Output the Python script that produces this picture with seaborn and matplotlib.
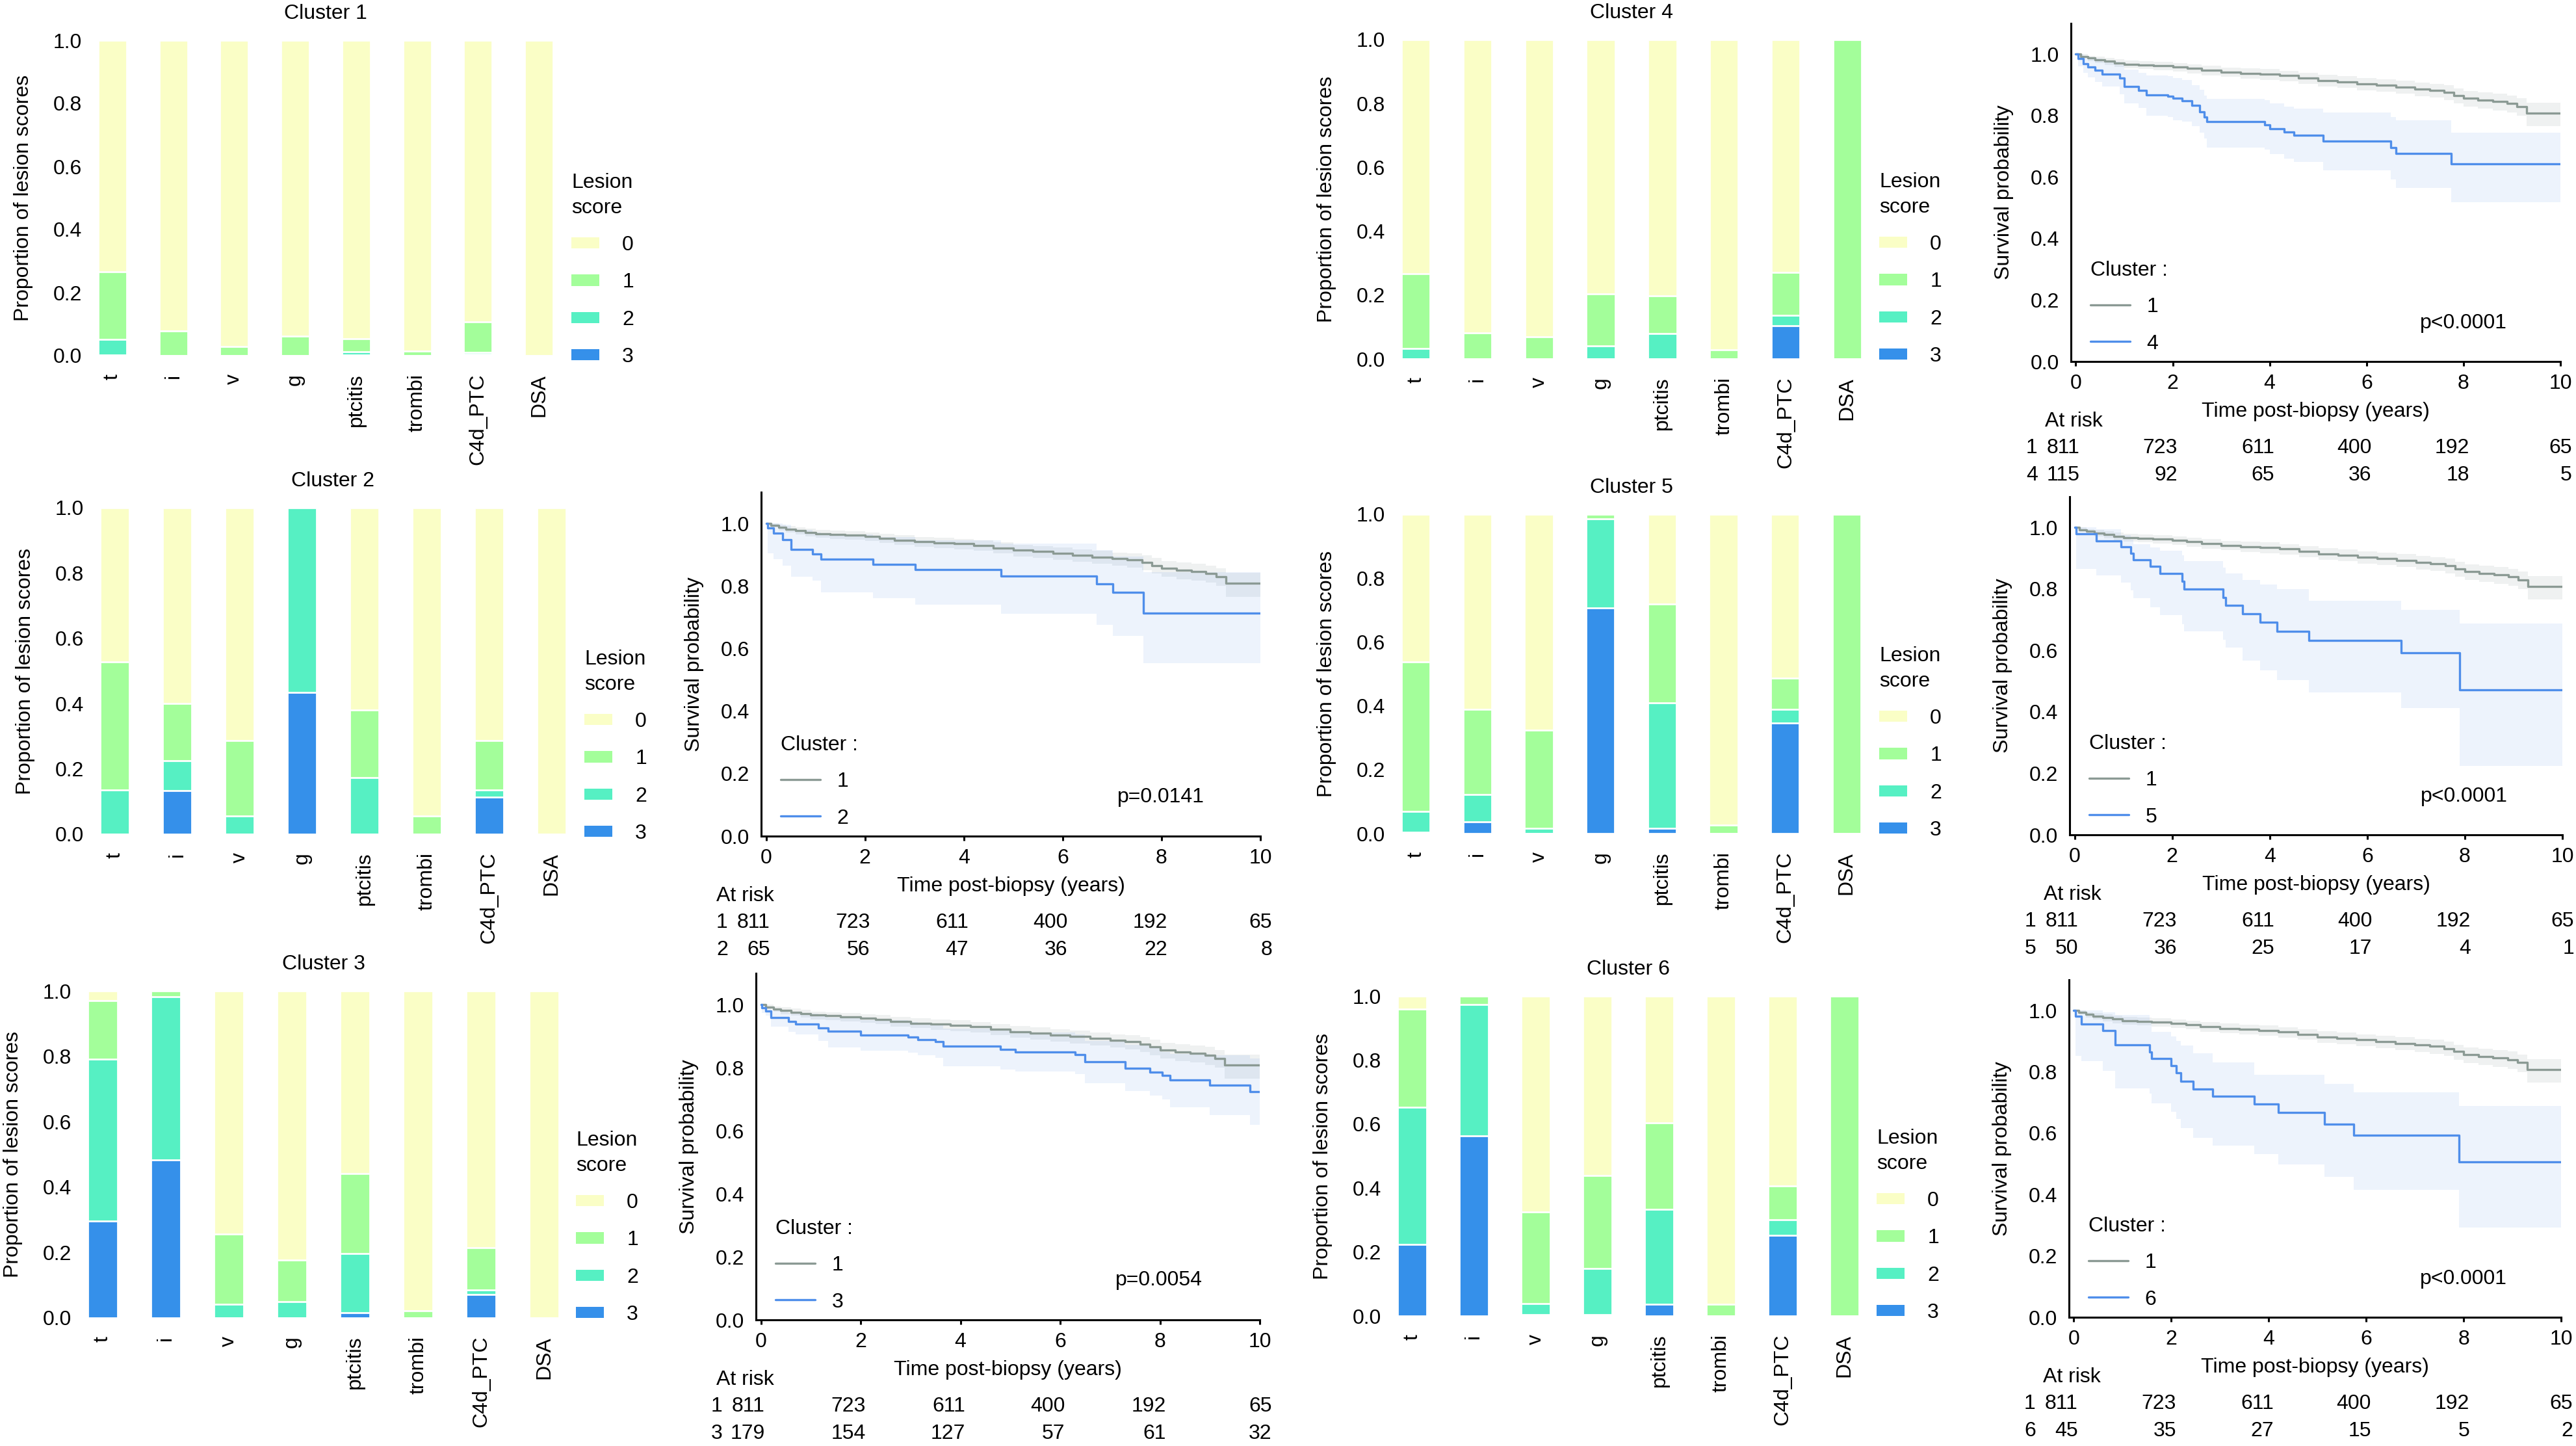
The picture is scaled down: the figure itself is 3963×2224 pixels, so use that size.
import numpy as np
import pandas as pd
import matplotlib
matplotlib.use("Agg")
import matplotlib.pyplot as plt
import seaborn as sns
from matplotlib.patches import Patch
from matplotlib.lines import Line2D
from matplotlib.transforms import blended_transform_factory

# ---- lesion score proportions (score 0 = remainder) ----
lesions = ["t", "i", "v", "g", "ptcitis", "trombi", "C4d_PTC", "DSA"]
score_levels = ["0", "1", "2", "3"]
score_colors = ["#FAFEC6", "#A3FE9A", "#56F0C3", "#3590EA"]

c1_s1 = [0.215, 0.078, 0.028, 0.061, 0.042, 0.014, 0.097, 0.0]
c1_s2 = [0.049, 0.0, 0.0, 0.0, 0.009, 0.0, 0.006, 0.0]
c1_s3 = [0.003, 0.0, 0.0, 0.0, 0.003, 0.0, 0.004, 0.0]

c2_s1 = [0.392, 0.175, 0.231, 0.0, 0.208, 0.056, 0.152, 0.0]
c2_s2 = [0.135, 0.092, 0.056, 0.566, 0.173, 0.0, 0.022, 0.0]
c2_s3 = [0.0, 0.133, 0.0, 0.434, 0.0, 0.0, 0.113, 0.0]

c3_s1 = [0.179, 0.017, 0.215, 0.127, 0.245, 0.022, 0.129, 0.0]
c3_s2 = [0.495, 0.500, 0.042, 0.049, 0.181, 0.0, 0.014, 0.0]
c3_s3 = [0.297, 0.483, 0.0, 0.0, 0.015, 0.0, 0.071, 0.0]

c4_s1 = [0.234, 0.082, 0.069, 0.163, 0.118, 0.029, 0.134, 1.0]
c4_s2 = [0.032, 0.0, 0.0, 0.041, 0.079, 0.0, 0.034, 0.0]
c4_s3 = [0.0, 0.0, 0.0, 0.0, 0.0, 0.0, 0.103, 0.0]

c5_s1 = [0.469, 0.265, 0.308, 0.014, 0.310, 0.027, 0.098, 1.0]
c5_s2 = [0.064, 0.087, 0.016, 0.279, 0.393, 0.0, 0.042, 0.0]
c5_s3 = [0.005, 0.036, 0.0, 0.707, 0.016, 0.0, 0.346, 0.0]

c6_s1 = [0.307, 0.026, 0.287, 0.291, 0.269, 0.037, 0.106, 1.0]
c6_s2 = [0.429, 0.412, 0.034, 0.143, 0.297, 0.0, 0.048, 0.0]
c6_s3 = [0.223, 0.562, 0.005, 0.005, 0.037, 0.0, 0.253, 0.0]

# ---- Kaplan-Meier curves ----
ref_t = [0, 0.1, 0.25, 0.4, 0.6, 0.8, 1.0, 1.3, 1.6, 2.0, 2.3, 2.6, 3.0, 3.4, 3.8, 4.2, 4.6,
         5.0, 5.4, 5.8, 6.2, 6.6, 7.0, 7.3, 7.6, 7.8, 8.0, 8.3, 8.6, 8.9, 9.1, 9.3, 10]
ref_s = [1.0, 0.993, 0.987, 0.982, 0.977, 0.972, 0.967, 0.965, 0.962, 0.958, 0.953, 0.947, 0.942,
         0.938, 0.935, 0.93, 0.922, 0.914, 0.91, 0.904, 0.899, 0.893, 0.887, 0.883, 0.876, 0.866,
         0.856, 0.85, 0.846, 0.84, 0.83, 0.808, 0.808]
ref_hi = [1.0, 1.0, 0.995, 0.992, 0.988, 0.984, 0.979, 0.977, 0.975, 0.971, 0.967, 0.962, 0.957,
          0.954, 0.951, 0.946, 0.939, 0.932, 0.928, 0.923, 0.918, 0.913, 0.907, 0.904, 0.898, 0.889,
          0.88, 0.875, 0.871, 0.866, 0.857, 0.842, 0.842]
ref_lo = [1.0, 0.987, 0.978, 0.971, 0.965, 0.959, 0.954, 0.951, 0.948, 0.944, 0.938, 0.931, 0.926,
          0.921, 0.917, 0.912, 0.904, 0.895, 0.89, 0.883, 0.877, 0.871, 0.864, 0.859, 0.851, 0.84,
          0.829, 0.822, 0.817, 0.81, 0.8, 0.765, 0.765]

km2_t = [0, 0.03, 0.15, 0.34, 0.5, 0.94, 1.11, 2.16, 3.02, 4.75, 6.69, 7.02, 7.63, 10]
km2_s = [1.0, 0.985, 0.969, 0.948, 0.917, 0.902, 0.886, 0.869, 0.852, 0.832, 0.807, 0.779, 0.714, 0.714]
km2_lo = [1.0, 0.905, 0.885, 0.864, 0.83, 0.817, 0.779, 0.761, 0.74, 0.711, 0.676, 0.64, 0.554, 0.554]
km2_hi = [1.0, 1.0, 1.0, 0.995, 0.98, 0.972, 0.965, 0.957, 0.947, 0.935, 0.915, 0.895, 0.845, 0.845]

km3_t = [0, 0.02, 0.1, 0.2, 0.55, 0.7, 1.15, 1.35, 2.0, 2.95, 3.15, 3.5, 3.65, 4.8, 5.1, 6.3, 6.5,
         7.3, 7.8, 8.05, 8.2, 9.0, 9.8, 10]
km3_s = [1.0, 0.99, 0.98, 0.96, 0.947, 0.94, 0.927, 0.917, 0.904, 0.898, 0.89, 0.883, 0.868, 0.858,
         0.851, 0.843, 0.82, 0.799, 0.787, 0.775, 0.761, 0.746, 0.724, 0.724]
km3_lo = [1.0, 0.975, 0.965, 0.93, 0.915, 0.905, 0.885, 0.865, 0.855, 0.848, 0.84, 0.832, 0.805,
          0.795, 0.789, 0.78, 0.752, 0.726, 0.712, 0.7, 0.675, 0.65, 0.619, 0.619]
km3_hi = [1.0, 1.0, 0.995, 0.985, 0.975, 0.972, 0.965, 0.96, 0.952, 0.946, 0.94, 0.934, 0.925,
          0.918, 0.912, 0.905, 0.885, 0.872, 0.862, 0.85, 0.845, 0.84, 0.83, 0.83]

km4_t = [0, 0.05, 0.15, 0.25, 0.4, 0.55, 0.9, 1.0, 1.3, 1.45, 1.9, 2.0, 2.2, 2.4, 2.55, 2.65, 2.7,
         3.9, 4.0, 4.3, 4.5, 5.1, 6.5, 6.6, 7.75, 10]
km4_s = [1.0, 0.985, 0.969, 0.958, 0.948, 0.935, 0.922, 0.894, 0.883, 0.867, 0.864, 0.856, 0.849,
         0.833, 0.812, 0.796, 0.781, 0.77, 0.758, 0.746, 0.736, 0.718, 0.697, 0.676, 0.643, 0.643]
km4_lo = [1.0, 0.96, 0.94, 0.925, 0.91, 0.895, 0.87, 0.84, 0.825, 0.8, 0.795, 0.785, 0.78, 0.765,
          0.745, 0.725, 0.695, 0.69, 0.675, 0.66, 0.65, 0.622, 0.593, 0.565, 0.518, 0.518]
km4_hi = [1.0, 1.0, 0.995, 0.99, 0.985, 0.975, 0.965, 0.95, 0.94, 0.93, 0.928, 0.922, 0.915, 0.9,
          0.885, 0.865, 0.855, 0.85, 0.84, 0.83, 0.822, 0.81, 0.795, 0.785, 0.745, 0.745]

km5_t = [0, 0.03, 0.45, 0.95, 1.15, 1.2, 1.55, 1.75, 2.2, 2.25, 3.05, 3.1, 3.45, 3.8, 4.15, 4.8,
         6.7, 7.9, 10]
km5_s = [1.0, 0.98, 0.957, 0.937, 0.916, 0.894, 0.873, 0.851, 0.824, 0.8, 0.773, 0.747, 0.72,
         0.692, 0.663, 0.633, 0.592, 0.472, 0.472]
km5_lo = [1.0, 0.865, 0.845, 0.82, 0.795, 0.769, 0.74, 0.715, 0.685, 0.662, 0.635, 0.61, 0.567,
          0.536, 0.504, 0.464, 0.412, 0.225, 0.225]
km5_hi = [1.0, 1.0, 0.995, 0.975, 0.96, 0.945, 0.935, 0.925, 0.91, 0.89, 0.87, 0.85, 0.83, 0.815,
          0.8, 0.762, 0.732, 0.687, 0.687]

km6_t = [0, 0.03, 0.15, 0.6, 0.85, 1.55, 1.6, 2.0, 2.1, 2.2, 2.45, 2.85, 3.7, 4.2, 5.15, 5.75, 7.9, 10]
km6_s = [1.0, 0.981, 0.956, 0.935, 0.887, 0.864, 0.843, 0.82, 0.796, 0.77, 0.744, 0.72, 0.695,
         0.668, 0.629, 0.593, 0.507, 0.507]
km6_lo = [1.0, 0.852, 0.835, 0.804, 0.747, 0.729, 0.697, 0.67, 0.647, 0.616, 0.586, 0.559, 0.532,
          0.499, 0.457, 0.415, 0.292, 0.292]
km6_hi = [1.0, 1.0, 1.0, 0.995, 0.985, 0.96, 0.93, 0.915, 0.9, 0.885, 0.86, 0.83, 0.79, 0.79,
          0.76, 0.733, 0.689, 0.689]

risk_times = [0, 2, 4, 6, 8, 10]
risk_c1 = [811, 723, 611, 400, 192, 65]
risk_c2 = [65, 56, 47, 36, 22, 8]
risk_c3 = [179, 154, 127, 57, 61, 32]
risk_c4 = [115, 92, 65, 36, 18, 5]
risk_c5 = [50, 36, 25, 17, 4, 1]
risk_c6 = [45, 35, 27, 15, 5, 2]

W, H = 3963, 2224
FS = 23
GRAY = "#8B9A94"
BLUE = "#4F8EEA"

sns.set_theme(style="white")
plt.rcParams["font.family"] = ["Liberation Sans", "DejaVu Sans"]
plt.rcParams["font.size"] = FS
for k in ["text.color", "axes.labelcolor", "xtick.color", "ytick.color", "axes.edgecolor"]:
    plt.rcParams[k] = "black"

fig = plt.figure(figsize=(W / 100, H / 100), dpi=100)


def add_ax(left, top, right, bottom):
    return fig.add_axes([left / W, 1 - bottom / H, (right - left) / W, (bottom - top) / H])


def lesion_panel(box, title, s1, s2, s3, key_left, key0_y):
    ax = add_ax(*box)
    w = box[2] - box[0]
    s1, s2, s3 = np.array(s1), np.array(s2), np.array(s3)
    tops = {"0": np.ones(len(lesions)), "1": s1 + s2 + s3, "2": s2 + s3, "3": s3}
    df = pd.DataFrame({
        "lesion": lesions * 4,
        "score": np.repeat(score_levels, len(lesions)),
        "top": np.concatenate([tops[k] for k in score_levels]),
    })
    sns.barplot(data=df, x="lesion", y="top", hue="score", order=lesions,
                hue_order=score_levels, palette=dict(zip(score_levels, score_colors)),
                dodge=False, width=0.47, saturation=1, edgecolor="white", linewidth=2,
                errorbar=None, legend=False, ax=ax)
    ax.set_xlim(-0.35, 7.35)
    ax.set_ylim(0, 1)
    sns.despine(ax=ax, left=True, bottom=True)
    ax.set_xticks(range(len(lesions)))
    ax.set_xticklabels(lesions, rotation=90)
    ax.set_yticks(np.arange(0, 1.01, 0.2))
    ax.set_yticklabels([f"{v:.1f}" for v in np.arange(0, 1.01, 0.2)])
    ax.tick_params(axis="x", length=0, pad=20, labelsize=FS)
    ax.tick_params(axis="y", length=0, pad=10, labelsize=FS)
    ax.set_xlabel("")
    ax.set_ylabel("Proportion of lesion scores", fontsize=FS)
    ax.yaxis.set_label_coords(-(105 - 16) / w, 0.5)
    ax.set_title(title, fontsize=FS, pad=24)
    handles = [Patch(facecolor=c, edgecolor="none") for c in score_colors]
    leg = ax.legend(handles, score_levels, title="Lesion\nscore", loc="upper left",
                    bbox_to_anchor=((key_left - 18) / W, 1 - (key0_y - 126) / H),
                    bbox_transform=fig.transFigure, frameon=False, fontsize=FS,
                    title_fontsize=FS, handlelength=1.35, handleheight=0.45,
                    handletextpad=1.1, labelspacing=0.85, borderpad=0.56,
                    borderaxespad=0, alignment="left")
    leg.get_title().set_linespacing(1.4)


def km_panel(box, atrisk_dx, label, t, s, lo, hi, pval, risk):
    ax = add_ax(*box)
    left, top, right, bottom = box
    w, h = right - left, bottom - top
    ax.fill_between(ref_t, ref_lo, ref_hi, step="post", color=GRAY, alpha=0.13, linewidth=0)
    ax.fill_between(t, lo, hi, step="post", color=BLUE, alpha=0.10, linewidth=0)
    df = pd.concat([
        pd.DataFrame({"time": ref_t, "surv": ref_s, "cluster": "1"}),
        pd.DataFrame({"time": t, "surv": s, "cluster": label}),
    ])
    sns.lineplot(data=df, x="time", y="surv", hue="cluster", hue_order=["1", label],
                 palette=[GRAY, BLUE], estimator=None, sort=False, drawstyle="steps-post",
                 linewidth=2.4, legend=False, ax=ax)
    ax.set_xlim(-0.1, 10)
    ax.set_ylim(0, 1.1)
    sns.despine(ax=ax)
    for sp in ("left", "bottom"):
        ax.spines[sp].set_linewidth(2.2)
        ax.spines[sp].set_color("black")
    ax.set_xticks(risk_times)
    ax.set_yticks(np.arange(0, 1.01, 0.2))
    ax.set_yticklabels([f"{v:.1f}" for v in np.arange(0, 1.01, 0.2)])
    ax.tick_params(axis="x", bottom=True, length=5, width=2.2, pad=9, labelsize=FS)
    ax.tick_params(axis="y", left=False, length=0, pad=13, labelsize=FS)
    ax.set_xlabel("Time post-biopsy (years)", fontsize=FS)
    ax.xaxis.set_label_coords(0.5, -(78 - 16) / h)
    ax.set_ylabel("Survival probability", fontsize=FS)
    ax.yaxis.set_label_coords(-(104 - 16) / w, 0.5)
    ax.text(7.1, 0.125, pval, fontsize=FS, ha="left", va="center")

    handles = [Line2D([], [], color=GRAY, lw=2.4), Line2D([], [], color=BLUE, lw=2.4)]
    ax.legend(handles, ["1", label], title="Cluster :", loc="upper left",
              bbox_to_anchor=((left + 3) / W, 1 - (bottom - 182) / H),
              bbox_transform=fig.transFigure, frameon=False, fontsize=FS,
              title_fontsize=FS, handlelength=1.9, handletextpad=0.8,
              labelspacing=0.82, borderpad=0.85, borderaxespad=0, alignment="left")

    # number at risk table
    trans = blended_transform_factory(ax.transData, ax.transAxes)
    ax.text(atrisk_dx / w, -92 / h, "At risk", transform=ax.transAxes,
            fontsize=FS, ha="left", va="center")
    risk_dx = [0.08, 0.1, 0.1, 0.1, 0.12, 0.24]
    for row, (name, counts) in enumerate([("1", risk_c1), (label, risk)]):
        y = -(133 + 42 * row) / h
        ax.text(-69 / w, y, name, transform=ax.transAxes, fontsize=FS, ha="left", va="center")
        for x, n, dx in zip(risk_times, counts, risk_dx):
            ax.text(x + dx, y, str(n), transform=trans, fontsize=FS, ha="right", va="center")
    return ax


lesion_panel((140, 62, 862, 547), "Cluster 1", c1_s1, c1_s2, c1_s3, 879, 374)
lesion_panel((143, 781, 882, 1283), "Cluster 2", c2_s1, c2_s2, c2_s3, 899, 1107)
lesion_panel((124, 1524, 871, 2027), "Cluster 3", c3_s1, c3_s2, c3_s3, 886, 1847)
lesion_panel((2145, 61, 2875, 552), "Cluster 4", c4_s1, c4_s2, c4_s3, 2891, 373)
lesion_panel((2145, 791, 2874, 1282), "Cluster 5", c5_s1, c5_s2, c5_s3, 2891, 1102)
lesion_panel((2139, 1532, 2871, 2024), "Cluster 6", c6_s1, c6_s2, c6_s3, 2887, 1844)

km_panel((1171, 757, 1939, 1286), -69, "2", km2_t, km2_s, km2_lo, km2_hi, "p=0.0141", risk_c2)
km_panel((1163, 1497, 1938, 2030), -61, "3", km3_t, km3_s, km3_lo, km3_hi, "p=0.0054", risk_c3)
km_panel((3186, 36, 3939, 556), -40, "4", km4_t, km4_s, km4_lo, km4_hi, "p<0.0001", risk_c4)
km_panel((3184, 764, 3942, 1284), -40, "5", km5_t, km5_s, km5_lo, km5_hi, "p<0.0001", risk_c5)
km_panel((3183, 1507, 3940, 2026), -40, "6", km6_t, km6_s, km6_lo, km6_hi, "p<0.0001", risk_c6)

fig.savefig("out.png", dpi=100)
